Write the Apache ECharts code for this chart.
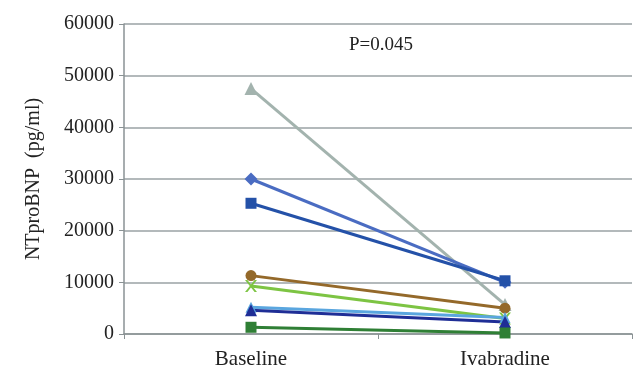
<!DOCTYPE html>
<html>
<head>
<meta charset="utf-8">
<script src="https://cdn.jsdelivr.net/npm/echarts@6/dist/echarts.min.js"></script>
<style>
  html, body { margin: 0; padding: 0; background: #fff; }
  #chart { width: 637px; height: 370px; }
</style>
</head>
<body>
<div id="chart"></div>
<script>
// Data
const categories = ['Baseline', 'Ivabradine'];
const yTicks = [0, 10000, 20000, 30000, 40000, 50000, 60000];

const patientGray = [47500, 5700];
const patientDiamond = [30000, 10000];
const patientSquare = [25300, 10300];
const patientBrown = [11300, 5000];
const patientGreenX = [9300, 3000];
const patientLightBlue = [5200, 3200];
const patientNavy = [4600, 2300];
const patientDarkGreen = [1300, 200];

const font = 'Liberation Serif';

function line(data, color, symbol, size) {
    return {
        type: 'line',
        data: data,
        symbol: symbol,
        symbolSize: size,
        lineStyle: { color: color, width: 3 },
        itemStyle: { color: color },
        animation: false
    };
}

const chart = echarts.init(document.getElementById('chart'));
chart.setOption({
    animation: false,
    grid: { left: 124, right: 5, top: 24, bottom: 36 },
    xAxis: {
        type: 'category',
        data: categories,
        boundaryGap: true,
        axisLine: { lineStyle: { color: '#8a9294', width: 1.5 } },
        axisTick: { show: true, length: 5, lineStyle: { color: '#8a9294' } },
        axisLabel: { color: '#222', fontFamily: font, fontSize: 21, margin: 15 }
    },
    yAxis: {
        type: 'value',
        min: yTicks[0],
        max: yTicks[yTicks.length - 1],
        interval: 10000,
        name: 'NTproBNP  (pg/ml)',
        nameLocation: 'middle',
        nameGap: 80,
        nameTextStyle: { color: '#222', fontFamily: font, fontSize: 20 },
        axisLine: { show: true, lineStyle: { color: '#8a9294', width: 1.5 } },
        axisTick: { show: true, length: 5, lineStyle: { color: '#8a9294' } },
        axisLabel: {
            color: '#222', fontFamily: font, fontSize: 20, margin: 10,
            formatter: v => String(v)
        },
        splitLine: { lineStyle: { color: '#9aa2a4', width: 1.5 } }
    },
    graphic: [{
        type: 'text',
        left: 349,
        top: 36,
        style: { text: 'P=0.045', fill: '#222', font: '19px "Liberation Serif"' }
    }],
    series: [
        line(patientGray, '#a3b3ae', 'triangle', 13),
        line(patientDiamond, '#4a6cc2', 'diamond', 13),
        line(patientSquare, '#2451a8', 'rect', 11),
        line(patientBrown, '#94692a', 'circle', 11),
        line(patientGreenX, '#7dc443', 'path://M0,0L2,0L5,3L8,0L10,0L6,4L10,8L8,8L5,5L2,8L0,8L4,4Z', 12),
        line(patientLightBlue, '#5aa6df', 'triangle', 11),
        line(patientNavy, '#1f2e96', 'triangle', 12),
        line(patientDarkGreen, '#2f7f35', 'rect', 11)
    ]
});
</script>
</body>
</html>
